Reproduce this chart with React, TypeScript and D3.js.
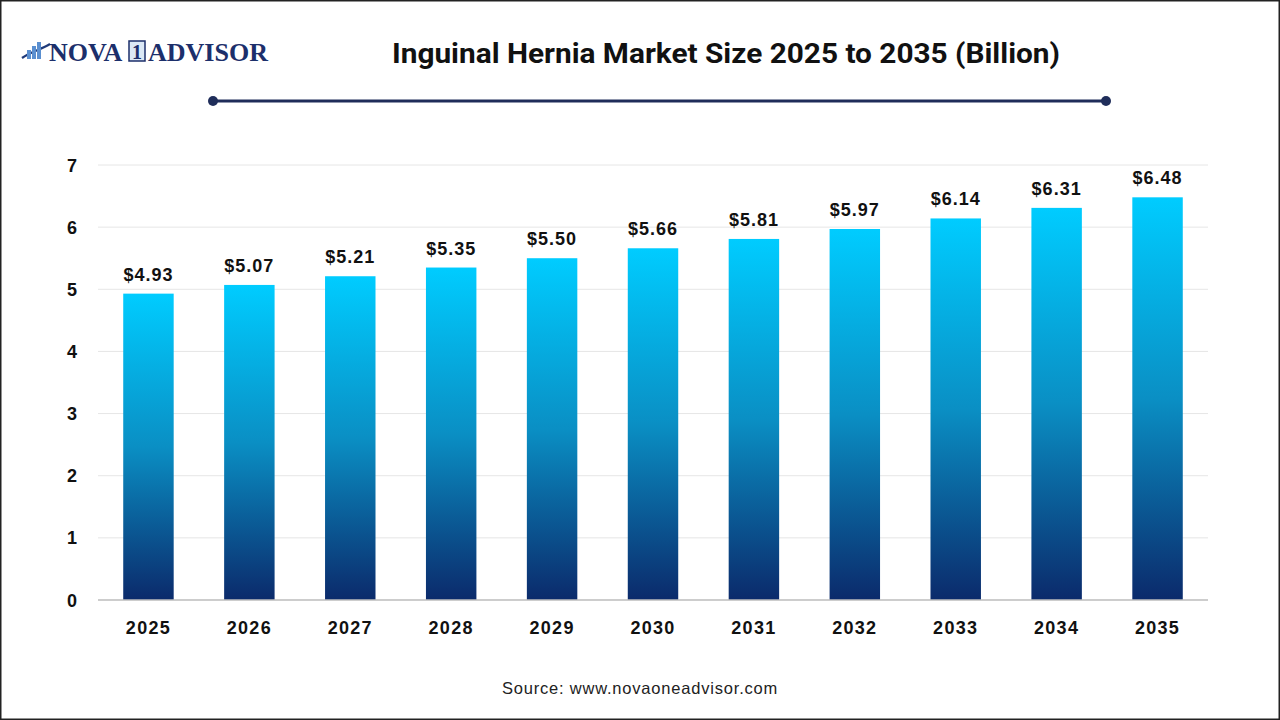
import React from "react";
import * as d3 from "d3";

const years = ["2025", "2026", "2027", "2028", "2029", "2030", "2031", "2032", "2033", "2034", "2035"];
const values = [4.93, 5.07, 5.21, 5.35, 5.5, 5.66, 5.81, 5.97, 6.14, 6.31, 6.48];
const yTicks = [0, 1, 2, 3, 4, 5, 6, 7];

const W = 1280;
const H = 720;
const M = { left: 98, right: 1208, top: 165, bottom: 600 };

export default function App() {
  const x = d3.scaleBand<string>().domain(years).range([M.left, M.right]).paddingInner(0.5).paddingOuter(0.25);
  const y = d3.scaleLinear().domain([0, 7]).range([M.bottom, M.top]);
  const font = "Arial, 'Liberation Sans', Helvetica, sans-serif";
  return (
    <svg width={W} height={H} style={{ position: "absolute", left: 0, top: 0, background: "#fff" }}>
      <defs>
        <linearGradient id="barGrad" x1="0" y1="0" x2="0" y2="1">
          <stop offset="0" stopColor="#00CCFF" />
          <stop offset="0.5" stopColor="#0A8FC4" />
          <stop offset="1" stopColor="#0B2A6B" />
        </linearGradient>
      </defs>
      <rect x={0.75} y={0.75} width={W - 1.5} height={H - 1.5} fill="#fff" stroke="#222" strokeWidth={1.5} />

      {/* Logo */}
      <g>
        <path d="M22,58 C30,52 40,50 50,44" fill="none" stroke="#1f3a7a" strokeWidth={2.2} />
        <rect x={27} y={50} width={4} height={9} fill="#5a8fd0" />
        <rect x={32} y={46} width={4} height={13} fill="#5a8fd0" />
        <rect x={37} y={42} width={4} height={17} fill="#5a8fd0" />
        <text x={49} y={61} fontFamily="'Liberation Serif', 'DejaVu Serif', serif" fontWeight={700} fontSize={26} fill="#1c2f6b">NOVA</text>
        <rect x={129} y={41} width={16} height={20} fill="#dbe8f5" stroke="#1c2f6b" strokeWidth={1.5} />
        <text x={137} y={59} textAnchor="middle" fontFamily="'Liberation Serif', serif" fontWeight={700} fontSize={20} fill="#1c2f6b">1</text>
        <text x={148} y={61} fontFamily="'Liberation Serif', 'DejaVu Serif', serif" fontWeight={700} fontSize={26} fill="#1c2f6b">ADVISOR</text>
      </g>

      {/* Title */}
      <text x={726} y={63} textAnchor="middle" fontFamily="Roboto, 'DejaVu Sans', sans-serif" fontWeight={700} fontSize={27} fill="#111" textLength={668} lengthAdjust="spacingAndGlyphs">
        Inguinal Hernia Market Size 2025 to 2035 (Billion)
      </text>
      <line x1={213} y1={101} x2={1106} y2={101} stroke="#1f2d5a" strokeWidth={3} />
      <circle cx={213} cy={101} r={5} fill="#1f2d5a" />
      <circle cx={1106} cy={101} r={5} fill="#1f2d5a" />

      {/* Grid */}
      {yTicks.map((t) => (
        <g key={t}>
          {t > 0 && <line x1={M.left} x2={M.right} y1={y(t)} y2={y(t)} stroke="#e6e6e6" strokeWidth={1} />}
          <text x={72} y={y(t) + 6.5} textAnchor="middle" fontFamily={font} fontWeight={700} fontSize={18} fill="#111">{t}</text>
        </g>
      ))}

      {/* Bars */}
      {years.map((yr, i) => {
        const bx = x(yr)!;
        const bw = x.bandwidth();
        const top = y(values[i]);
        return (
          <g key={yr}>
            <rect x={bx} y={top} width={bw} height={y(0) - top} fill="url(#barGrad)" />
            <text x={bx + bw / 2} y={top - 13} textAnchor="middle" fontFamily={font} fontWeight={700} fontSize={18} letterSpacing={1} fill="#111">
              {"$" + values[i].toFixed(2)}
            </text>
            <text x={bx + bw / 2} y={634} textAnchor="middle" fontFamily={font} fontWeight={700} fontSize={18} letterSpacing={1.3} fill="#111">{yr}</text>
          </g>
        );
      })}
      <line x1={M.left} x2={M.right} y1={y(0)} y2={y(0)} stroke="#bdbdbd" strokeWidth={1.5} />

      <text x={640} y={694} textAnchor="middle" fontFamily={font} fontSize={16.5} letterSpacing={0.8} fill="#222">Source: www.novaoneadvisor.com</text>
    </svg>
  );
}
